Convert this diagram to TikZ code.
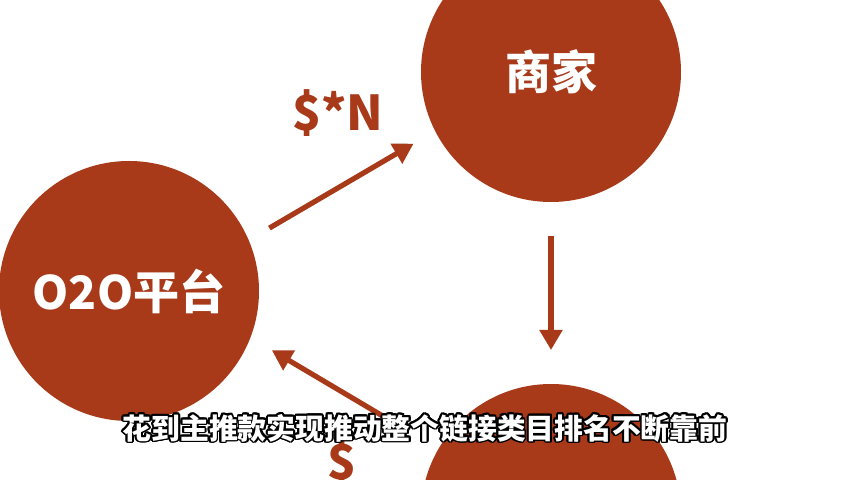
\documentclass[tikz,border=0pt]{standalone}
\usepackage{fontspec}
\setmainfont{Noto Sans CJK SC}
\usepackage[copies]{contour}
\usepackage{tikz}
\usetikzlibrary{arrows.meta,positioning,calc}
\definecolor{rust}{RGB}{168,58,26}
\contourlength{0.9pt}

\begin{document}
\begin{tikzpicture}[x=0.5pt,y=-0.5pt,
  disc/.style={circle,fill=rust,minimum size=130pt,inner sep=0pt,outer sep=0pt,text=white,font=\bfseries\fontsize{23}{25}\selectfont},
  flow/.style={-{Triangle[length=10pt,width=11pt]},rust,line width=2.6pt},
  price/.style={text=rust,font=\bfseries\fontsize{24}{26}\selectfont}]
  \useasboundingbox (0,0) rectangle (852,480);
  \clip (0,0) rectangle (852,480);
  \node[disc] (platform) at (129,291) {O2O平台};
  \node[disc] (merchant) at (551,72) {商家};
  \node[disc] (customer) at (551,514) {};
  \draw[flow,shorten <=12pt,shorten >=12.5pt] (platform.23) -- (merchant.207);
  \draw[flow,shorten <=17pt,shorten >=17pt] (merchant.south) -- (customer.north);
  \draw[flow,shorten <=20pt,shorten >=12.5pt] (customer.150) -- (platform.-21);
  \node[price] (costN) at (338,113) {\$*N};
  \node[price] (cost) at (342,462) {\$};
  \node[text=white,font=\bfseries\fontsize{14.4}{16}\selectfont] (caption) at (425,429) {\contour{black}{花到主推款实现推动整个链接类目排名不断靠前}};
\end{tikzpicture}
\end{document}
